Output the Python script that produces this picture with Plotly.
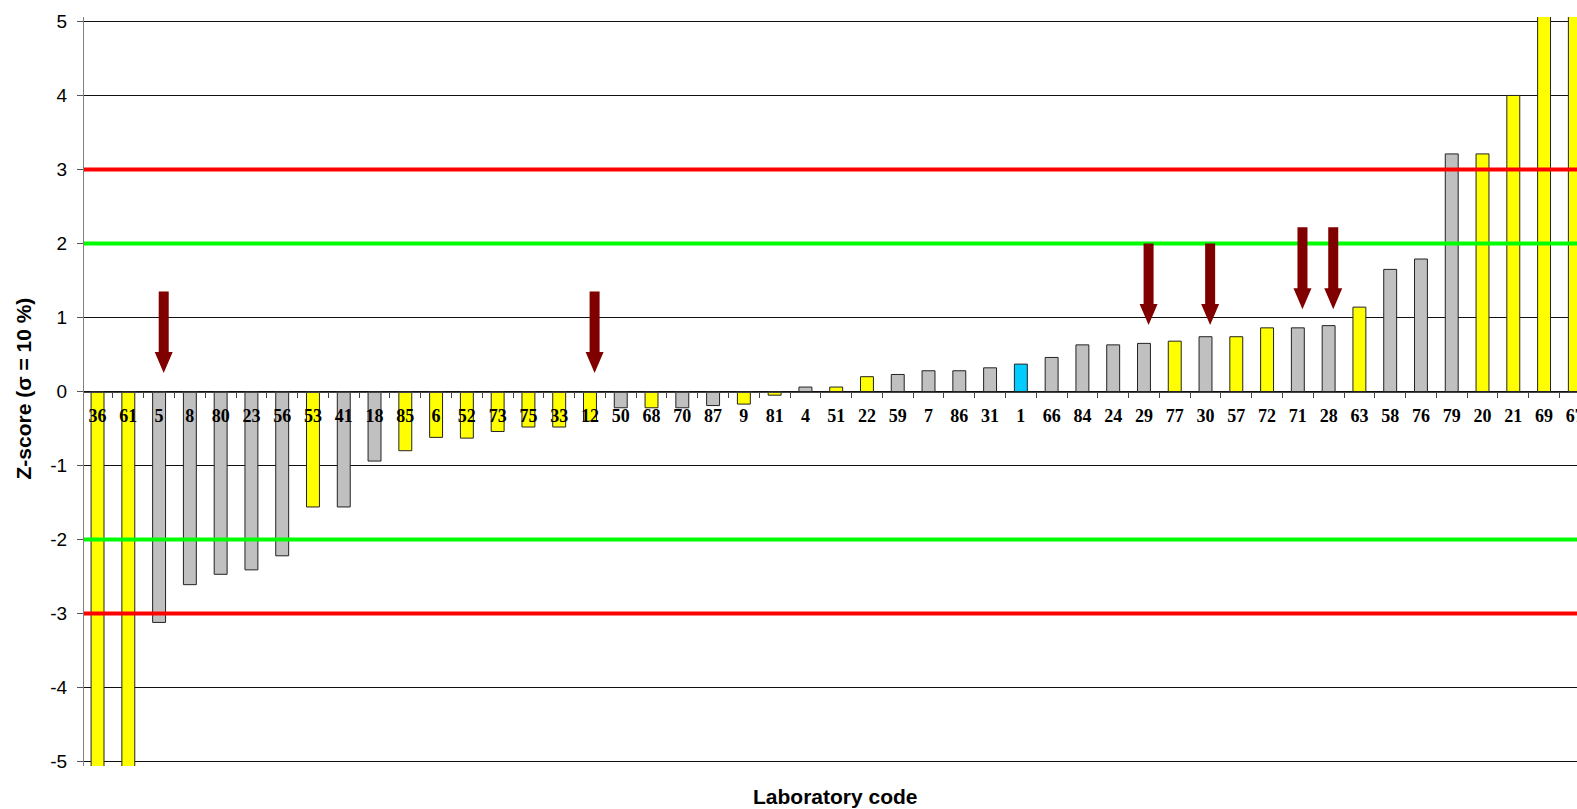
import plotly.graph_objects as go

# Laboratory codes in plotted order and their z-scores (sigma = 10 %)
LABS = ["36", "61", "5", "8", "80", "23", "56", "53", "41", "18", "85", "6",
        "52", "73", "75", "33", "12", "50", "68", "70", "87", "9", "81", "4",
        "51", "22", "59", "7", "86", "31", "1", "66", "84", "24", "29", "77",
        "30", "57", "72", "71", "28", "63", "58", "76", "79", "20", "21", "69",
        "67"]
ZSCORES = [-5.5, -5.5, -3.12, -2.61, -2.47, -2.41, -2.22, -1.56, -1.56, -0.94,
           -0.80, -0.62, -0.63, -0.54, -0.48, -0.48, -0.40, -0.22, -0.22, -0.22,
           -0.19, -0.17, -0.05, 0.06, 0.06, 0.20, 0.23, 0.28, 0.28, 0.32,
           0.37, 0.46, 0.63, 0.63, 0.65, 0.68, 0.74, 0.74, 0.86, 0.86,
           0.89, 1.14, 1.65, 1.79, 3.21, 3.21, 4.0, 5.5, 5.5]
# Result group of each laboratory: Y = yellow, G = grey, B = blue
GROUPS = ["Y", "Y", "G", "G", "G", "G", "G", "Y", "G", "G", "Y", "Y",
          "Y", "Y", "Y", "Y", "Y", "G", "Y", "G", "G", "Y", "Y", "G",
          "Y", "Y", "G", "G", "G", "G", "B", "G", "G", "G", "G", "Y",
          "G", "Y", "Y", "G", "G", "Y", "G", "G", "G", "Y", "Y", "Y",
          "Y"]
# Limit lines |z| = 2 and |z| = 3
WARN_LIMIT = 2
ACTION_LIMIT = 3
# Y-axis tick values
Y_TICKS = [-5, -4, -3, -2, -1, 0, 1, 2, 3, 4, 5]
# Flagged laboratories: (code, arrow top z, arrow tip z)
ARROWS = [("5", 1.35, 0.25), ("12", 1.35, 0.25), ("29", 2.0, 0.90),
          ("30", 2.0, 0.90), ("71", 2.22, 1.11), ("28", 2.22, 1.11)]

GROUP_COLORS = {"Y": "#FFFF00", "G": "#C0C0C0", "B": "#00CCFF"}

W, H = 1577, 809
M_L, M_R, M_T, M_B = 84, 0, 17, 43
X_RANGE = [-0.44, 48.07]
Y_RANGE = [-5.06, 5.06]
px_per_x = (W - M_L - M_R) / (X_RANGE[1] - X_RANGE[0])
px_per_y = (H - M_T - M_B) / (Y_RANGE[1] - Y_RANGE[0])

xs = list(range(len(LABS)))

fig = go.Figure()
fig.add_trace(go.Bar(
    x=xs, y=ZSCORES, width=0.42,
    marker=dict(color=[GROUP_COLORS[g] for g in GROUPS],
                line=dict(color="#222222", width=1)),
    showlegend=False, hoverinfo="skip",
))

shapes = []
for lim, col in [(WARN_LIMIT, "#00FF00"), (ACTION_LIMIT, "#FF0000")]:
    for sgn in (1, -1):
        shapes.append(dict(type="line", xref="paper", yref="y", x0=0, x1=1,
                           y0=sgn * lim, y1=sgn * lim, layer="above",
                           line=dict(color=col, width=4)))

# Down arrows drawn as filled polygons, sized in pixels
shaft_hw = 5 / px_per_x
head_hw = 9 / px_per_x
head_h = 21 / px_per_y
shift = 0.15
for code, top, tip in ARROWS:
    cx = LABS.index(code) + shift
    neck = tip + head_h
    path = (f"M{cx - shaft_hw},{top} L{cx + shaft_hw},{top} "
            f"L{cx + shaft_hw},{neck} L{cx + head_hw},{neck} L{cx},{tip} "
            f"L{cx - head_hw},{neck} L{cx - shaft_hw},{neck} Z")
    shapes.append(dict(type="path", xref="x", yref="y", path=path,
                       fillcolor="#800000", line=dict(width=0), layer="above"))

fig.update_layout(
    width=W, height=H,
    margin=dict(l=M_L, r=M_R, t=M_T, b=M_B, autoexpand=False),
    paper_bgcolor="white", plot_bgcolor="white",
    shapes=shapes,
    xaxis=dict(
        range=X_RANGE, anchor="free", position=0.5, automargin=False,
        tickmode="array", tickvals=xs, ticktext=LABS,
        ticks="outside", ticklen=5, tickcolor="rgba(0,0,0,0)",
        ticklabelstandoff=3, ticklabeloverflow="allow",
        minor=dict(tickmode="array", tickvals=[i + 0.5 for i in xs[:-1]] + [-0.5],
                   ticks="outside", ticklen=5, tickcolor="#444444", tickwidth=1,
                   showgrid=False),
        showline=True, linecolor="#444444", linewidth=1,
        showgrid=False, zeroline=False,
        tickfont=dict(family="Liberation Serif", size=18, color="black",
                      weight="bold"),
    ),
    yaxis=dict(
        range=Y_RANGE, tickmode="array", tickvals=Y_TICKS,
        ticktext=[str(v) for v in Y_TICKS], automargin=False,
        ticks="outside", ticklen=6, tickcolor="#555555",
        ticklabelstandoff=6,
        showline=True, linecolor="#808080", linewidth=1,
        showgrid=True, gridcolor="#111111", gridwidth=1,
        zeroline=False,
        tickfont=dict(family="Liberation Sans", size=19, color="black"),
    ),
    annotations=[
        dict(text="<b>Z-score (σ = 10 %)</b>", textangle=-90,
             xref="paper", yref="paper", x=0, y=0.5, xanchor="center",
             yanchor="middle", xshift=-61, yshift=3, showarrow=False,
             font=dict(family="Liberation Sans", size=21, color="black")),
        dict(text="<b>Laboratory code</b>", xref="paper", yref="paper",
             x=0.5, y=0, xanchor="center", yanchor="middle", yshift=-30,
             xshift=5, showarrow=False,
             font=dict(family="Liberation Sans", size=21, color="black")),
    ],
)

fig.write_html("out.html")
